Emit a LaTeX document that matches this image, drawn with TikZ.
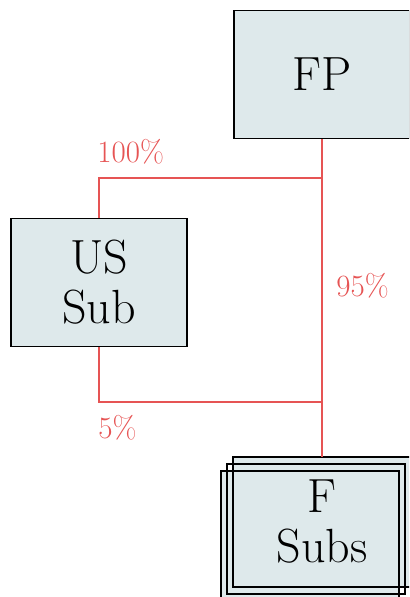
\documentclass[tikz,border=0pt]{standalone}
\usepackage{xcolor}
\usepackage{tikz}
\usetikzlibrary{positioning, calc}

\definecolor{boxfill}{RGB}{222,233,235}
\definecolor{linkred}{RGB}{230,84,84}

\begin{document}
\begin{tikzpicture}[
    x=0.5pt, y=-0.5pt,
    box/.style={rectangle, draw, line width=0.8pt, fill=boxfill, text width=80pt, align=center, minimum width=88pt, minimum height=64pt, font=\fontsize{24}{25}\selectfont},
    link/.style={draw=linkred, line width=1pt},
    lbl/.style={text=linkred, inner sep=0pt, font=\fontsize{15.5}{18}\selectfont}
]
\useasboundingbox (0,0) rectangle (409,597);
\clip (0,0) rectangle (409,597);

\node [box] (fp) at (322,74.5) {FP};
\node [box] (ussub) at (99,282.5) {US\\Sub};

% stacked boxes for the subsidiaries
\node [box, draw=none, fill=none] (fsubs) at (322,522) {};
\fill [boxfill] (fsubs.south west) rectangle (fsubs.north east);
\fill [boxfill] ($(fsubs.south west)+(-12,14)$) rectangle ($(fsubs.north east)+(-12,14)$);
\draw [line width=0.8pt] (fsubs.south west) rectangle (fsubs.north east);
\draw [line width=0.8pt] ($(fsubs.south west)+(-6,7)$) rectangle ($(fsubs.north east)+(-6,7)$);
\draw [line width=0.8pt] ($(fsubs.south west)+(-12,14)$) rectangle ($(fsubs.north east)+(-12,14)$);
\node [box, draw=none, fill=none] (fsubstext) at (fsubs) {F\\Subs};

\coordinate (top joint) at (fp.south |- 0,178);
\coordinate (bottom joint) at (fp.south |- 0,402);

\draw [link] (fp.south) -- (fsubs.north);
\draw [link] (ussub.north) |- (top joint);
\draw [link] (ussub.south) |- (bottom joint);

\node [lbl, anchor=base west] (own100) at (97,163) {100\%};
\node [lbl, anchor=base west] (own95) at (336,297) {95\%};
\node [lbl, anchor=base west] (own5) at (98,438) {5\%};
\end{tikzpicture}
\end{document}
